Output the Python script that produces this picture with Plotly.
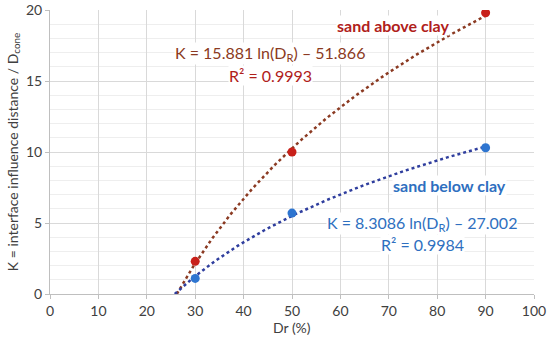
import numpy as np
import plotly.graph_objects as go

dr = [30, 50, 90]
k_above = [2.3, 10.0, 19.8]
k_below = [1.1, 5.7, 10.3]
# displayed trendline coefficients: K = a ln(Dr) + b
above_coef = [15.881, -51.866]
below_coef = [8.3086, -27.002]
x_ticks = [0, 10, 20, 30, 40, 50, 60, 70, 80, 90, 100]
y_ticks = [0, 5, 10, 15, 20]

FONT = "Lato, 'Open Sans', sans-serif"

def trend(coef, x_end):
    a, b = coef
    x0 = np.exp(-b / a)
    xs = np.linspace(x0, x_end, 200)
    return xs, a * np.log(xs) + b

fig = go.Figure()
xa, ya = trend(above_coef, max(dr))
xb, yb = trend(below_coef, max(dr))
fig.add_trace(go.Scatter(x=xa, y=ya, mode="lines",
                         line=dict(color="#8B3A22", width=2.5, dash="dot"),
                         showlegend=False, hoverinfo="skip"))
fig.add_trace(go.Scatter(x=xb, y=yb, mode="lines",
                         line=dict(color="#2F3E9E", width=2.5, dash="dot"),
                         showlegend=False, hoverinfo="skip"))
fig.add_trace(go.Scatter(x=dr, y=k_above, mode="markers",
                         marker=dict(color="#C8201A", size=9),
                         showlegend=False))
fig.add_trace(go.Scatter(x=dr, y=k_below, mode="markers",
                         marker=dict(color="#2E75D0", size=9),
                         showlegend=False))

ann = [
    dict(x=70.9, y=18.9, text="<b>sand above clay</b>", color="#B0201A"),
    dict(x=45.5, y=16.95, text="K = 15.881 ln(D<sub>R</sub>) – 51.866", color="#8B3A22"),
    dict(x=45.5, y=15.4, text="R² = 0.9993", color="#B0201A"),
    dict(x=82.6, y=7.65, text="<b>sand below clay</b>", color="#2E6FC0"),
    dict(x=76.9, y=5.0, text="K = 8.3086 ln(D<sub>R</sub>) – 27.002", color="#2E6FC0"),
    dict(x=76.9, y=3.5, text="R² = 0.9984", color="#2E6FC0"),
]
for a in ann:
    fig.add_annotation(x=a["x"], y=a["y"], text=a["text"], showarrow=False,
                       xref="x", yref="y", bgcolor="white", borderpad=0,
                       font=dict(family=FONT, size=16, color=a["color"]))

# x-axis title placed just under the tick labels
fig.add_annotation(x=0.5, y=-0.117, xref="paper", yref="paper", text="Dr (%)",
                   showarrow=False, yanchor="middle",
                   font=dict(family=FONT, size=14, color="#404040"))

fig.update_layout(
    width=550, height=337,
    margin=dict(l=50, r=16, t=10, b=43),
    plot_bgcolor="white", paper_bgcolor="white",
    font=dict(family=FONT, size=14, color="#404040"),
    xaxis=dict(range=[0, 100], tickvals=x_ticks, showgrid=True,
               gridcolor="#D9D9D9", gridwidth=1, zeroline=False,
               showline=True, linecolor="#BFBFBF", linewidth=1,
               ticks="outside", ticklen=4, tickcolor="#BFBFBF",
               automargin=False, ticklabeloverflow="allow",
               tickfont=dict(size=14)),
    yaxis=dict(range=[0, 20], tickvals=y_ticks, showgrid=True,
               gridcolor="#D9D9D9", gridwidth=1, zeroline=False,
               showline=True, linecolor="#BFBFBF", linewidth=1,
               ticks="outside", ticklen=4, tickcolor="#BFBFBF",
               automargin=False, ticklabeloverflow="allow",
               minor=dict(dtick=1, showgrid=True, gridcolor="#EEEEEE", ticks=""),
               title=dict(text="K = interface influence distance / D<sub>cone</sub>",
                          standoff=4, font=dict(size=14)),
               tickfont=dict(size=14)),
)

# remove the page's default body margin so the figure sits at the window's corner
fig.write_html("out.html", config={"displayModeBar": False},
               post_script="document.body.style.margin='0';")
